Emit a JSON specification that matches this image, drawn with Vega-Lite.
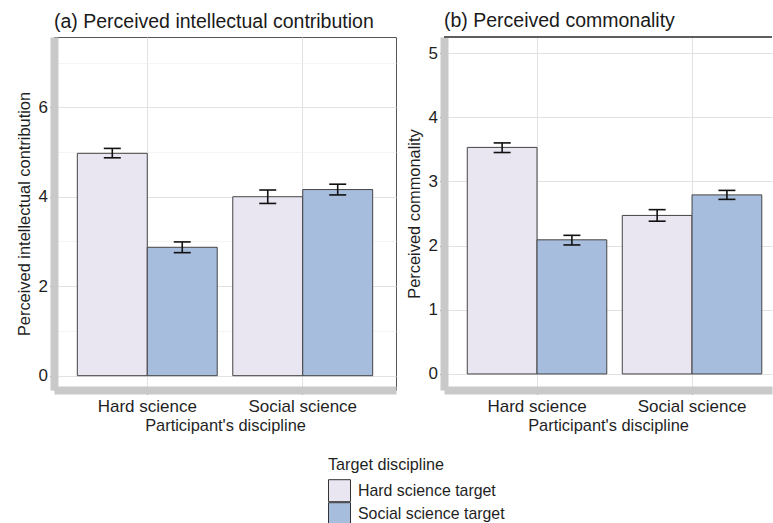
{
  "$schema": "https://vega.github.io/schema/vega-lite/v6.json",
  "padding": {"left": 15, "top": 11, "right": 0, "bottom": 0},
  "background": "white",
  "spacing": 9,
  "config": {
    "font": "Liberation Sans",
    "legend": {"rowPadding": -4, "gridAlign": "none"},
    "axis": {
      "domainColor": "#c9c9c9",
      "domainWidth": 8,
      "domainCap": "butt",
      "tickColor": "#333333",
      "tickSize": 4,
      "tickWidth": 1,
      "labelFontSize": 17,
      "labelColor": "#1f1f1f",
      "titleFontSize": 16.4,
      "titleFontWeight": "normal",
      "titleColor": "#1f1f1f"
    },
    "axisX": {"labelPadding": 4, "titlePadding": 3},
    "axisY": {"labelPadding": 2.5, "titlePadding": 6}
  },
  "data": {
    "values": [
      {"panel": "a", "participant": "Hard science", "target": "Hard science target", "mean": 4.97, "lo": 4.87, "hi": 5.08},
      {"panel": "a", "participant": "Hard science", "target": "Social science target", "mean": 2.87, "lo": 2.75, "hi": 2.99},
      {"panel": "a", "participant": "Social science", "target": "Hard science target", "mean": 4.0, "lo": 3.85, "hi": 4.15},
      {"panel": "a", "participant": "Social science", "target": "Social science target", "mean": 4.16, "lo": 4.04, "hi": 4.28},
      {"panel": "b", "participant": "Hard science", "target": "Hard science target", "mean": 3.53, "lo": 3.45, "hi": 3.6},
      {"panel": "b", "participant": "Hard science", "target": "Social science target", "mean": 2.09, "lo": 2.01, "hi": 2.16},
      {"panel": "b", "participant": "Social science", "target": "Hard science target", "mean": 2.47, "lo": 2.38, "hi": 2.56},
      {"panel": "b", "participant": "Social science", "target": "Social science target", "mean": 2.79, "lo": 2.72, "hi": 2.86}
    ]
  },
  "resolve": {
    "scale": {"x": "independent", "y": "independent", "xOffset": "independent", "color": "shared"},
    "legend": {"color": "shared"}
  },
  "hconcat": [
    {
      "title": {"text": "(a) Perceived intellectual contribution", "anchor": "start", "frame": "group", "fontSize": 19.5, "fontWeight": "normal", "color": "#1a1a1a", "offset": 5},
      "width": 342,
      "height": 353,
      "view": {"stroke": "#555555", "strokeWidth": 1},
      "transform": [{"filter": "datum.panel === 'a'"}],
      "encoding": {
        "x": {
          "field": "participant", "type": "nominal", "sort": ["Hard science", "Social science"],
          "scale": {"paddingInner": 0.1, "paddingOuter": 0.15, "align": 0.5, "round": false},
          "axis": {"title": "Participant's discipline", "labelAngle": 0, "grid": true, "bandPosition": 0.5, "gridColor": "#e2e2e2", "gridWidth": 1.1}
        },
        "xOffset": {"field": "target", "type": "nominal", "sort": ["Hard science target", "Social science target"], "scale": {"paddingInner": 0, "paddingOuter": 0}}
      },
      "layer": [
        {
          "mark": {"type": "bar", "stroke": "#444444", "strokeWidth": 1, "opacity": 1},
          "encoding": {
            "y": {
              "field": "mean", "type": "quantitative", "stack": null,
              "scale": {"domain": [-0.32, 7.57], "nice": false, "zero": false},
              "axis": {
                "title": "Perceived intellectual contribution",
                "values": [0, 1, 2, 3, 4, 5, 6, 7],
                "format": "d",
                "labelExpr": "datum.value % 2 === 0 ? datum.label : ''",
                "gridColor": {"condition": {"test": "datum.value % 2 === 0", "value": "#e2e2e2"}, "value": "#efefef"},
                "gridWidth": {"condition": {"test": "datum.value % 2 === 0", "value": 1.1}, "value": 0.7},
                "tickOpacity": {"condition": {"test": "datum.value % 2 === 0", "value": 1}, "value": 0}
              }
            },
            "y2": {"datum": 0},
            "color": {
              "field": "target", "type": "nominal",
              "scale": {"domain": ["Hard science target", "Social science target"], "range": ["#e9e6f2", "#a7bddd"]},
              "legend": {"orient": "none", "legendX": 274, "legendY": 420, "direction": "vertical", "title": "Target discipline", "symbolType": "square", "symbolSize": 484, "symbolStrokeColor": "#333333", "symbolStrokeWidth": 1, "symbolOpacity": 1, "labelFontSize": 15.9, "titleFontSize": 16.2, "titleFontWeight": "normal", "labelColor": "#1f1f1f", "titleColor": "#1f1f1f", "rowPadding": -4, "gridAlign": "none", "labelOffset": 7, "titlePadding": 6, "padding": 0}
            }
          }
        },
        {
          "mark": {"type": "rule", "color": "#111111", "strokeWidth": 1.6, "opacity": 1},
          "encoding": {
            "y": {"field": "lo", "type": "quantitative", "title": "Perceived intellectual contribution"},
            "y2": {"field": "hi"}
          }
        },
        {
          "mark": {"type": "tick", "color": "#111111", "size": 17, "thickness": 1.6, "opacity": 1},
          "encoding": {"y": {"field": "lo", "type": "quantitative", "title": "Perceived intellectual contribution"}}
        },
        {
          "mark": {"type": "tick", "color": "#111111", "size": 17, "thickness": 1.6, "opacity": 1},
          "encoding": {"y": {"field": "hi", "type": "quantitative", "title": "Perceived intellectual contribution"}}
        }
      ]
    },
    {
      "title": {"text": "(b) Perceived commonality", "anchor": "start", "frame": "group", "fontSize": 19.5, "fontWeight": "normal", "color": "#1a1a1a", "offset": 5},
      "width": 328,
      "height": 353,
      "view": {"stroke": null},
      "transform": [{"filter": "datum.panel === 'b'"}],
      "encoding": {
        "x": {
          "field": "participant", "type": "nominal", "sort": ["Hard science", "Social science"],
          "scale": {"paddingInner": 0.1, "paddingOuter": 0.108, "align": 0.695, "round": false},
          "axis": {"title": "Participant's discipline", "labelAngle": 0, "grid": true, "bandPosition": 0.5, "gridColor": "#e2e2e2", "gridWidth": 1.1}
        },
        "xOffset": {"field": "target", "type": "nominal", "sort": ["Hard science target", "Social science target"], "scale": {"paddingInner": 0, "paddingOuter": 0}}
      },
      "layer": [
        {
          "mark": {"type": "bar", "stroke": "#444444", "strokeWidth": 1, "opacity": 1},
          "encoding": {
            "y": {
              "field": "mean", "type": "quantitative", "stack": null,
              "scale": {"domain": [-0.25, 5.25], "nice": false, "zero": false},
              "axis": {
                "title": "Perceived commonality",
                "values": [0, 0.5, 1, 1.5, 2, 2.5, 3, 3.5, 4, 4.5, 5],
                "format": "d",
                "labelExpr": "datum.value % 1 === 0 ? datum.label : ''",
                "gridColor": {"condition": {"test": "datum.value % 1 === 0", "value": "#e2e2e2"}, "value": "#efefef"},
                "gridWidth": {"condition": {"test": "datum.value % 1 === 0", "value": 1.1}, "value": 0.7},
                "tickOpacity": {"condition": {"test": "datum.value % 1 === 0", "value": 1}, "value": 0}
              }
            },
            "y2": {"datum": 0},
            "color": {
              "field": "target", "type": "nominal",
              "scale": {"domain": ["Hard science target", "Social science target"], "range": ["#e9e6f2", "#a7bddd"]},
              "legend": {"orient": "none", "legendX": 274, "legendY": 420, "direction": "vertical", "title": "Target discipline", "symbolType": "square", "symbolSize": 484, "symbolStrokeColor": "#333333", "symbolStrokeWidth": 1, "symbolOpacity": 1, "labelFontSize": 15.9, "titleFontSize": 16.2, "titleFontWeight": "normal", "labelColor": "#1f1f1f", "titleColor": "#1f1f1f", "rowPadding": -4, "gridAlign": "none", "labelOffset": 7, "titlePadding": 6, "padding": 0}
            }
          }
        },
        {
          "mark": {"type": "rule", "color": "#111111", "strokeWidth": 1.6, "opacity": 1},
          "encoding": {
            "y": {"field": "lo", "type": "quantitative", "title": "Perceived commonality"},
            "y2": {"field": "hi"}
          }
        },
        {
          "mark": {"type": "tick", "color": "#111111", "size": 17, "thickness": 1.6, "opacity": 1},
          "encoding": {"y": {"field": "lo", "type": "quantitative", "title": "Perceived commonality"}}
        },
        {
          "mark": {"type": "tick", "color": "#111111", "size": 17, "thickness": 1.6, "opacity": 1},
          "encoding": {"y": {"field": "hi", "type": "quantitative", "title": "Perceived commonality"}}
        },
        {
          "mark": {"type": "rule", "color": "#555555", "strokeWidth": 1},
          "encoding": {"y": {"datum": 5.25, "type": "quantitative"}, "x": null, "xOffset": null}
        }
      ]
    }
  ]
}
